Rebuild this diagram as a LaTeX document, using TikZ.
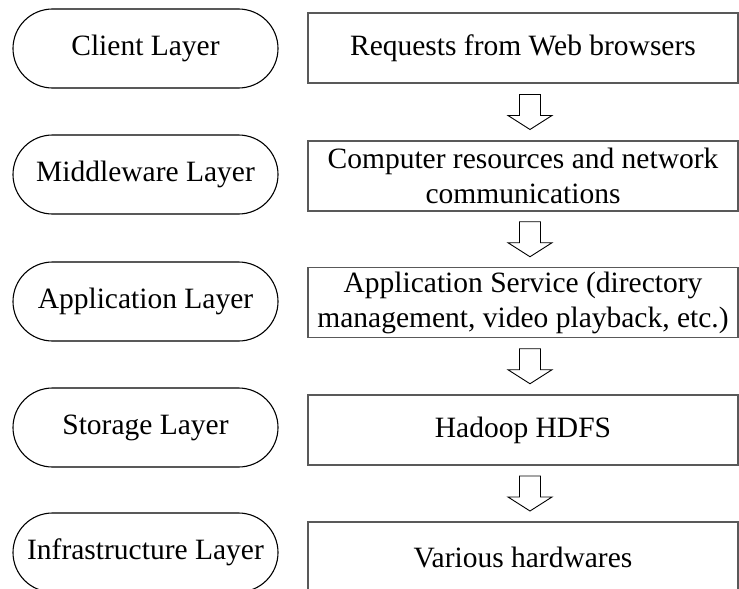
\documentclass[tikz,border=0pt]{standalone}
\usepackage{fontspec}
\setmainfont{Liberation Serif}
\usetikzlibrary{shapes.misc,calc}

\begin{document}
\begin{tikzpicture}[x=1pt,y=-1pt,
  layer/.style={draw,line width=1.1pt,rounded rectangle,minimum width=265pt,minimum height=79pt,inner sep=0pt},
  desc/.style={draw=black!65,line width=1.3pt,rectangle,minimum width=430pt,minimum height=70pt,inner sep=0pt,align=center},
  blockarrow/.style={draw,line width=0.9pt}]
\path[use as bounding box,clip] (0,0) rectangle (739,589);
\tikzset{every node/.style={font=\fontsize{29.5}{35}\selectfont}}

% layers on the left
\node[layer] (client) at (145.5,48.5) {Client Layer};
\node[layer] (middle) at (145.5,174.5) {Middleware Layer};
\node[layer] (appl)   at (145.5,301.5) {Application Layer};
\node[layer] (stor)   at (145.5,427.5) {Storage Layer};
\node[layer] (infra)  at (145.5,552.5) {Infrastructure Layer};

% what each layer does
\node[desc] (req)   at (523,48)    {Requests from Web browsers};
\node[desc] (mid)   at (523,176)   {Computer resources and network\\communications};
\node[desc] (app)   at (523,302.5) {Application Service (directory\\management, video playback, etc.)};
\node[desc] (store) at (523,430)   {Hadoop HDFS};
\node[desc] (hw)    at (523,557)   {Various hardwares};

% hollow arrows between the boxes
\foreach \s/\t in {req/mid,mid/app,app/store,store/hw}
  \draw[blockarrow,shift={($(\s.south)!0.5!(\t.north)+(7,0)$)}]
    (-10.5,-17.5) -- (10.5,-17.5) -- (10.5,3.5) -- (22,3.5) -- (0,17.5)
    -- (-22,3.5) -- (-10.5,3.5) -- cycle;
\end{tikzpicture}
\end{document}
